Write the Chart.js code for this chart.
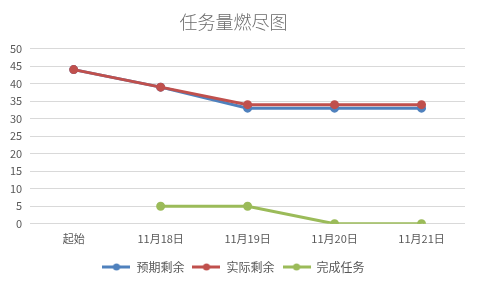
<!DOCTYPE html>
<html>
<head>
<meta charset="utf-8">
<script src="https://cdn.jsdelivr.net/npm/chart.js@4"></script>
<style>
  html, body { margin: 0; padding: 0; background: #fff; }
  #wrap { width: 477px; height: 285px; }
</style>
</head>
<body>
<div id="wrap"><canvas id="chart"></canvas></div>
<script>
const categories = ["起始", "11月18日", "11月19日", "11月20日", "11月21日"];
const plannedRemaining = [44, 39, 33, 33, 33];
const actualRemaining = [44, 39, 34, 34, 34];
const completedTasks = [null, 5, 5, 0, 0];

const FONT = "'Noto Sans CJK SC', 'Microsoft YaHei', sans-serif";

// little legend marker: a line with a dot in the middle, like Excel
function legendMarker(color) {
  const c = document.createElement("canvas");
  c.width = 28;
  c.height = 8;
  const ctx = c.getContext("2d");
  ctx.strokeStyle = color;
  ctx.lineWidth = 3;
  ctx.beginPath();
  ctx.moveTo(0, 4);
  ctx.lineTo(28, 4);
  ctx.stroke();
  ctx.fillStyle = color;
  ctx.beginPath();
  ctx.arc(14, 4, 3.5, 0, Math.PI * 2);
  ctx.fill();
  return c;
}

function series(label, data, color, order) {
  return {
    label: label,
    data: data,
    borderColor: color,
    backgroundColor: color,
    pointBackgroundColor: color,
    pointBorderColor: color,
    borderWidth: 3,
    pointRadius: 3,
    pointHoverRadius: 4,
    pointStyle: "circle",
    fill: false,
    tension: 0,
    order: order,
  };
}

new Chart(document.getElementById("chart"), {
  type: "line",
  data: {
    labels: categories,
    datasets: [
      series("预期剩余", plannedRemaining, "#4F81BD", 2),
      series("实际剩余", actualRemaining, "#C0504D", 1),
      series("完成任务", completedTasks, "#9BBB59", 0),
    ],
  },
  options: {
    responsive: true,
    maintainAspectRatio: false,
    animation: false,
    layout: { padding: { left: 2, right: 12, top: 4, bottom: 2 } },
    plugins: {
      title: {
        display: true,
        text: "任务量燃尽图",
        color: "#6b6b6b",
        font: { family: FONT, size: 18, weight: 300 },
        padding: { top: 7, bottom: 16 },
      },
      legend: {
        position: "bottom",
        labels: {
          usePointStyle: true,
          pointStyleWidth: 28,
          generateLabels: function (chart) {
            return chart.data.datasets.map(function (ds, i) {
              return {
                text: ds.label,
                pointStyle: legendMarker(ds.borderColor),
                fontColor: "#595959",
                strokeStyle: ds.borderColor,
                fillStyle: ds.borderColor,
                lineWidth: 0,
                datasetIndex: i,
                hidden: !chart.isDatasetVisible(i),
              };
            });
          },
          color: "#595959",
          font: { family: FONT, size: 12 },
          boxWidth: 28,
          boxHeight: 8,
          padding: 8,
        },
      },
      tooltip: { enabled: false },
    },
    scales: {
      x: {
        offset: true,
        grid: { display: false, drawTicks: false },
        border: { display: false },
        ticks: {
          color: "#595959",
          font: { family: FONT, size: 11 },
          padding: 8,
          maxRotation: 0,
        },
      },
      y: {
        min: 0,
        max: 50,
        ticks: {
          stepSize: 5,
          color: "#595959",
          font: { family: FONT, size: 11 },
          padding: 8,
        },
        grid: { color: "#D9D9D9", drawTicks: false },
        border: { display: false },
      },
    },
  },
});
</script>
</body>
</html>
